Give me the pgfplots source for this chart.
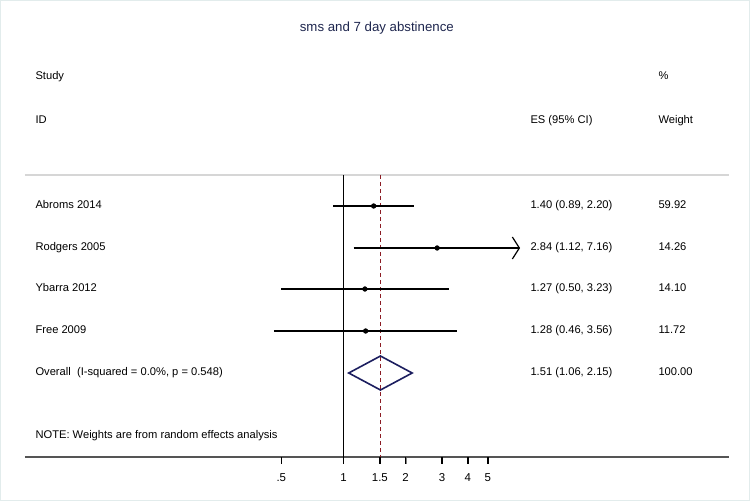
\documentclass[border=0pt]{standalone}
\usepackage{fontspec}
\setmainfont{Liberation Sans}
\usepackage{pgfplots}
\usepackage{pgfplotstable}
\pgfplotsset{compat=1.18}
\usetikzlibrary{arrows.meta}

\definecolor{diamondblue}{RGB}{28,30,95}
\definecolor{refred}{RGB}{140,28,36}
\definecolor{titleblue}{RGB}{30,38,78}
\definecolor{axisgray}{RGB}{85,85,85}
\definecolor{topgray}{RGB}{214,214,214}
\definecolor{framecol}{RGB}{226,236,236}

% y = row position (pixels from bottom), es = effect size, lo/hi = 95% CI
\pgfplotstableread{
y   es   lo   hi
295 1.40 0.89 2.20
253 2.84 1.12 7.16
212 1.27 0.50 3.23
170 1.28 0.46 3.56
}\studies

\newcommand{\txt}{\fontsize{11.2}{13}\selectfont}

\begin{document}
\begin{tikzpicture}
\begin{axis}[
    scale only axis,
    width=704bp, height=282bp,
    xmode=log,
    xmin=0.0287, xmax=73.53,
    ymin=44, ymax=326,
    axis x line=bottom,
    axis y line=none,
    ytick=\empty,
    x axis line style={draw=axisgray, line width=1.2bp, -},
    xtick={0.5,1,1.5,2,3,4,5},
    xticklabels={.5,1,1.5,2,3,4,5},
    minor xtick={},
    xtick align=outside,
    major tick length=7bp,
    xticklabel style={font=\fontsize{11.5}{13}\selectfont, yshift=-6bp},
    clip=false,
]
% frame of the plot region
\addplot[topgray, line width=1.5bp] coordinates {(0.0287,326) (73.53,326)};
% tick marks below the axis line
\addplot[black, line width=1.3bp] coordinates {(0.5,44) (0.5,37)};
\addplot[black, line width=1.3bp] coordinates {(1,44) (1,37)};
\addplot[black, line width=1.3bp] coordinates {(1.5,44) (1.5,37)};
\addplot[black, line width=1.3bp] coordinates {(2,44) (2,37)};
\addplot[black, line width=1.3bp] coordinates {(3,44) (3,37)};
\addplot[black, line width=1.3bp] coordinates {(4,44) (4,37)};
\addplot[black, line width=1.3bp] coordinates {(5,44) (5,37)};
% null line and overall estimate
\addplot[black, line width=0.9bp] coordinates {(1,326) (1,44)};
\addplot[refred, line width=0.9bp, dash pattern=on 4bp off 3bp] coordinates {(1.51,326) (1.51,44)};

% confidence intervals
\addplot[black, line width=1.4bp] coordinates {(0.89,295) (2.20,295)};
\addplot[black, line width=1.4bp, -{Straight Barb[length=7bp,width=22bp,line width=1.2bp]}] coordinates {(1.12,253) (7.16,253)};
\addplot[black, line width=1.4bp] coordinates {(0.50,212) (3.23,212)};
\addplot[black, line width=1.4bp] coordinates {(0.46,170) (3.56,170)};
\addplot[only marks, mark=*, mark size=2.4bp, black] table[x=es, y=y] {\studies};

% pooled estimate diamond
\addplot[diamondblue, line width=1.6bp, line join=miter] coordinates {
    (1.06,128) (1.51,145) (2.15,128) (1.51,111) (1.06,128) (1.51,145)};

% title and headers
\node[titleblue, font=\fontsize{13.3}{15}\selectfont] at (axis cs:1.45,473) {sms and 7 day abstinence};
\node[anchor=mid west, font=\txt] at (axis cs:0.03103,424) {Study};
\node[anchor=mid west, font=\txt] at (axis cs:32.22,424) {\%};
\node[anchor=mid west, font=\txt] at (axis cs:0.03103,380) {ID};
\node[anchor=mid west, font=\txt] at (axis cs:7.734,380) {ES (95\% CI)};
\node[anchor=mid west, font=\txt] at (axis cs:32.22,380) {Weight};

% study rows
\node[anchor=mid west, font=\txt] at (axis cs:0.03103,295) {Abroms 2014};
\node[anchor=mid west, font=\txt] at (axis cs:0.03103,253) {Rodgers 2005};
\node[anchor=mid west, font=\txt] at (axis cs:0.03103,212) {Ybarra 2012};
\node[anchor=mid west, font=\txt] at (axis cs:0.03103,170) {Free 2009};
\node[anchor=mid west, font=\txt] at (axis cs:0.03103,128) {Overall\ \ (I-squared = 0.0\%, p = 0.548)};
\node[anchor=mid west, font=\txt] at (axis cs:0.03103,65) {NOTE: Weights are from random effects analysis};

\node[anchor=mid west, font=\txt] at (axis cs:7.734,295) {1.40 (0.89, 2.20)};
\node[anchor=mid west, font=\txt] at (axis cs:7.734,253) {2.84 (1.12, 7.16)};
\node[anchor=mid west, font=\txt] at (axis cs:7.734,212) {1.27 (0.50, 3.23)};
\node[anchor=mid west, font=\txt] at (axis cs:7.734,170) {1.28 (0.46, 3.56)};
\node[anchor=mid west, font=\txt] at (axis cs:7.734,128) {1.51 (1.06, 2.15)};

\node[anchor=mid west, font=\txt] at (axis cs:32.22,295) {59.92};
\node[anchor=mid west, font=\txt] at (axis cs:32.22,253) {14.26};
\node[anchor=mid west, font=\txt] at (axis cs:32.22,212) {14.10};
\node[anchor=mid west, font=\txt] at (axis cs:32.22,170) {11.72};
\node[anchor=mid west, font=\txt] at (axis cs:32.22,128) {100.00};

\coordinate (picsw) at (axis cs:0.02172,0);
\coordinate (picne) at (axis cs:92.93,501);
\end{axis}
\pgfresetboundingbox
\path[use as bounding box] (picsw) rectangle (picne);
\draw[framecol, line width=1.5bp] ([shift={(0.75bp,0.75bp)}]picsw) rectangle ([shift={(-0.75bp,-0.75bp)}]picne);
\end{tikzpicture}
\end{document}
